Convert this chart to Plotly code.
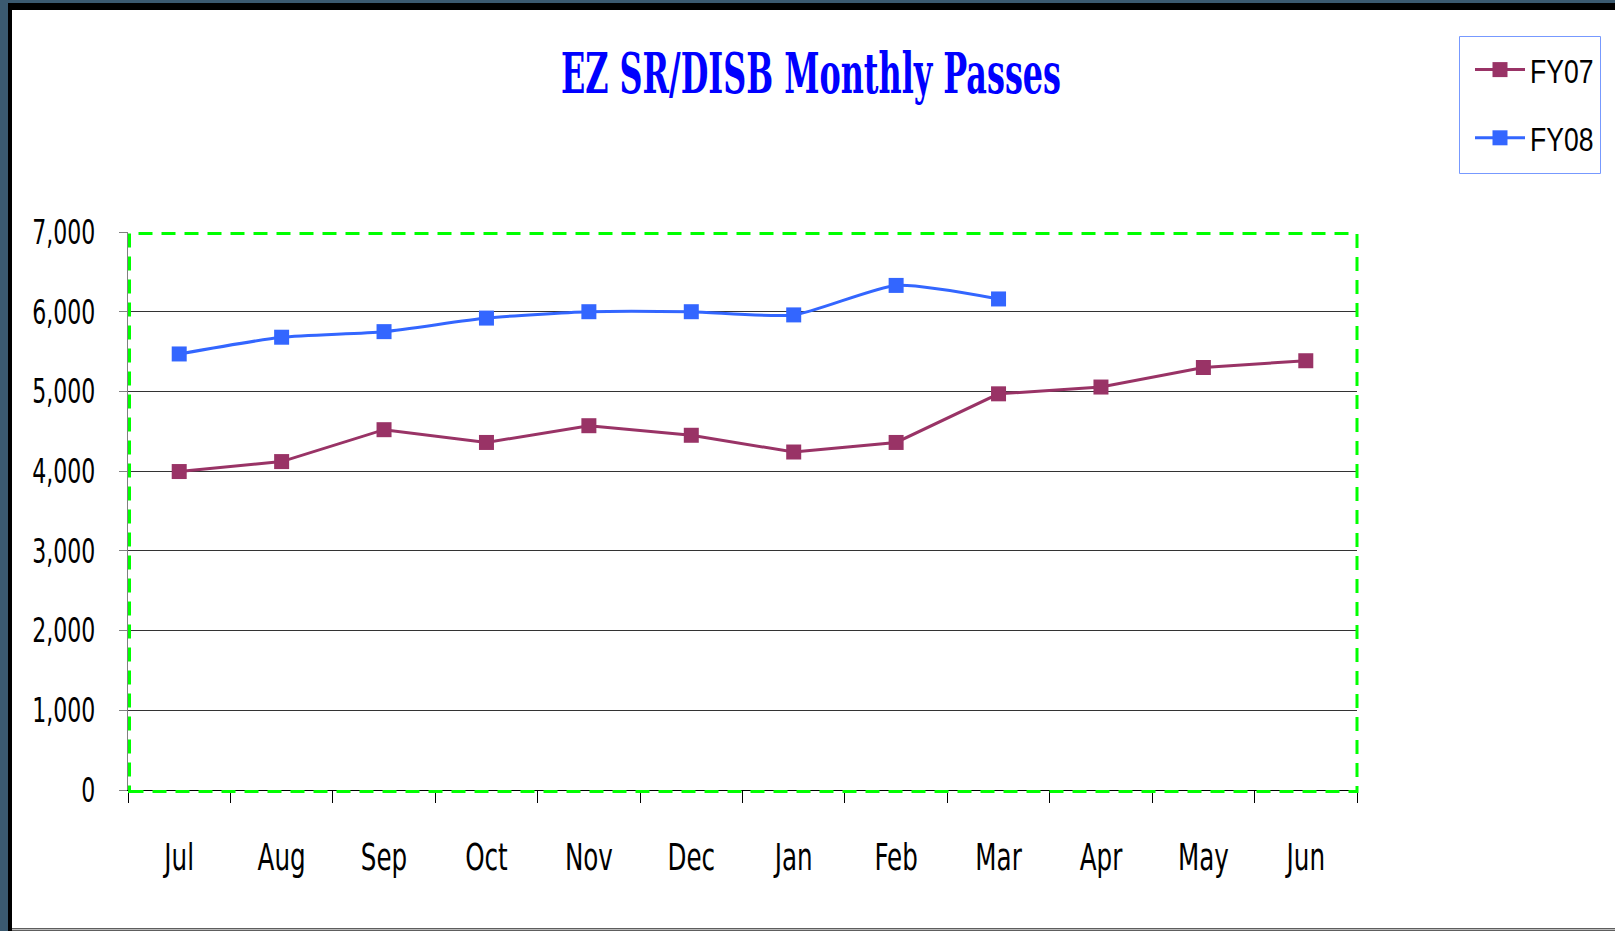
import plotly.graph_objects as go

months = ["Jul", "Aug", "Sep", "Oct", "Nov", "Dec", "Jan", "Feb", "Mar", "Apr", "May", "Jun"]
fy07 = [3995, 4120, 4520, 4360, 4570, 4450, 4240, 4360, 4970, 5055, 5300, 5385]
fy08 = [5470, 5680, 5750, 5920, 6000, 6000, 5960, 6330, 6160]
y_ticks = [0, 1000, 2000, 3000, 4000, 5000, 6000, 7000]

W, H = 1615, 931
L, R, T, B = 128, 1357, 232, 790
pw, ph = R - L, B - T


def px(x):
    return (x - L) / pw


def py(y):
    return (B - y) / ph


fig = go.Figure()
fig.add_trace(go.Scatter(
    x=months, y=fy07, name="FY07", mode="lines+markers", legendgroup="a",
    line=dict(color="#993366", width=3),
    marker=dict(symbol="square", size=15, color="#993366"),
))
fig.add_trace(go.Scatter(
    x=months[:len(fy08)], y=fy08, name="FY08", mode="lines+markers", legendgroup="b",
    line=dict(color="#3366FF", width=3, shape="spline", smoothing=0.6),
    marker=dict(symbol="square", size=15, color="#3366FF"),
))

shapes = [
    # outer frame
    dict(type="rect", xref="paper", yref="paper", x0=px(-5), x1=px(W + 5), y0=py(H + 5), y1=py(-5),
         fillcolor="#3b5a70", line=dict(width=0), layer="below"),
    dict(type="rect", xref="paper", yref="paper", x0=px(8), x1=px(W + 5), y0=py(H + 5), y1=py(3),
         fillcolor="#000000", line=dict(width=0), layer="below"),
    dict(type="rect", xref="paper", yref="paper", x0=px(12), x1=px(W + 5), y0=py(928), y1=py(10),
         fillcolor="#ffffff", line=dict(width=0), layer="below"),
    dict(type="line", xref="paper", yref="paper", x0=px(12), x1=px(W), y0=py(929.5), y1=py(929.5),
         line=dict(color="#bbbbbb", width=2), layer="below"),
    # legend frame
    dict(type="rect", xref="paper", yref="paper", x0=px(1459.5), x1=px(1600.5), y0=py(173.5), y1=py(36.5),
         line=dict(color="#7799ff", width=1), fillcolor="rgba(0,0,0,0)", layer="above"),
    # green dashed plot border
    dict(type="rect", xref="paper", yref="paper", x0=px(L + 1.5), x1=px(R), y0=py(B + 1.5), y1=py(T + 1.5),
         line=dict(color="#00ff00", width=3, dash="14px,9px"), layer="above"),
]

tickfont_family = "DejaVu Sans Condensed, DejaVu Sans, sans-serif"

fig.update_layout(
    width=W, height=H, autosize=False,
    margin=dict(l=L, r=W - R, t=T, b=H - B, pad=0, autoexpand=False),
    paper_bgcolor="#ffffff", plot_bgcolor="rgba(0,0,0,0)",
    shapes=shapes,
    showlegend=True,
    title=dict(
        text="EZ SR/DISB Monthly Passes",
        x=px(811), xanchor="center", xref="paper",
        y=1 - 73 / H, yanchor="middle", yref="container",
        font=dict(family="DejaVu Serif Condensed, DejaVu Serif", size=56, color="#0000ff", weight="bold"),
    ),
    legend=dict(
        x=1470 / W, y=1 - 41 / H, xanchor="left", yanchor="top", xref="container", yref="container",
        bgcolor="rgba(0,0,0,0)", borderwidth=0,
        font=dict(family="Liberation Sans, Arial, sans-serif", size=34, color="#000000"),
        tracegroupgap=21, traceorder="grouped", itemwidth=50,
    ),
    xaxis=dict(
        type="category", categoryorder="array", categoryarray=months,
        range=[-0.5, 11.5], tickson="boundaries", ticks="outside", ticklen=12,
        tickcolor="#000000", showline=True, linecolor="#000000", linewidth=1,
        showgrid=False, ticklabelstandoff=33,
        tickfont=dict(family=tickfont_family, size=38, color="#000000"),
    ),
    yaxis=dict(
        range=[0, 7000], tickvals=y_ticks, tickformat=",", ticks="outside", ticklen=8,
        tickcolor="#808080", showline=True, linecolor="#808080", linewidth=1,
        showgrid=True, gridcolor="#333333", gridwidth=1, zeroline=False,
        ticklabelstandoff=17,
        tickfont=dict(family=tickfont_family, size=34, color="#000000"),
    ),
)

post = """
document.body.style.margin = '0';
document.body.style.overflow = 'hidden';
var gd = document.getElementById('{plot_id}');
function squeeze(sel, f, fixed) {
  gd.querySelectorAll(sel).forEach(function (t) {
    var len = fixed ? fixed : t.getComputedTextLength() * f;
    t.setAttribute('textLength', len.toFixed(1));
    t.setAttribute('lengthAdjust', 'spacingAndGlyphs');
  });
}
squeeze('.xtick text', 0.72);
squeeze('.ytick text', 0.72);
squeeze('.legendtext', 0.78);
squeeze('.gtitle', 0, 500);
"""

fig.write_html("out.html", post_script=post,
               config={"responsive": False, "displayModeBar": False, "staticPlot": True})
